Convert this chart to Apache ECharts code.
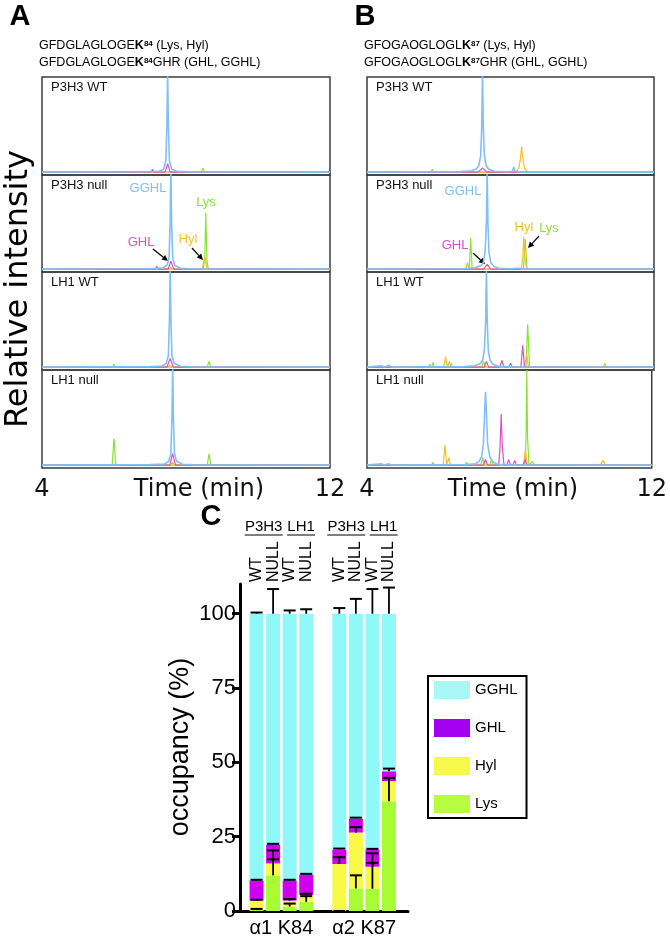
<!DOCTYPE html>
<html><head><meta charset="utf-8">
<script src="https://cdn.jsdelivr.net/npm/echarts@6/dist/echarts.min.js"></script>
<style>html,body{margin:0;padding:0;background:#fff}#c{width:670px;height:938px}</style>
</head><body><div id="c"></div><script>
// ---------- Chromatogram data (time in min, relative intensity) ----------
const timeTicks = [4, 12];
const conditions = ['P3H3 WT', 'P3H3 null', 'LH1 WT', 'LH1 null'];
const ionNames = ['Lys', 'Hyl', 'GHL', 'GGHL'];

// Panel A: GFDGLAGLOGEK84
const aP3wt_GGHL = [[4,0],[6.9,0.004],[7.25,0.01],[7.38,0.03],[7.44,0.12],[7.47,0.5],[7.49,1.05],[7.51,0.5],[7.54,0.12],[7.6,0.03],[7.75,0.01],[8.1,0.003],[12,0]];
const aP3wt_GHL = [[4,0],[5.65,0],[5.7,0.015],[5.75,0],[6.4,0],[6.44,0.012],[6.48,0],[6.68,0],[6.72,0.015],[6.76,0],[7.03,0],[7.07,0.03],[7.11,0],[7.42,0],[7.49,0.09],[7.56,0],[12,0]];
const aP3wt_Hyl = [[4,0],[8.42,0],[8.47,0.045],[8.52,0],[12,0]];
const aP3wt_Lys = [[4,0],[6.05,0],[6.1,0.012],[6.15,0],[8.78,0],[8.82,0.015],[8.86,0],[12,0]];

const aP3null_GGHL = [[4,0],[7.0,0.005],[7.35,0.012],[7.47,0.04],[7.53,0.12],[7.56,0.5],[7.58,1.05],[7.6,0.5],[7.63,0.12],[7.69,0.04],[7.85,0.01],[8.2,0.003],[12,0]];
const aP3null_GHL = [[4,0],[5.65,0],[5.69,0.02],[5.73,0],[5.93,0],[5.97,0.015],[6.01,0],[6.73,0],[6.77,0.02],[6.81,0],[7.15,0],[7.19,0.03],[7.23,0],[7.5,0],[7.58,0.085],[7.66,0],[12,0]];
const aP3null_Hyl = [[4,0],[7.52,0],[7.58,0.02],[7.64,0],[8.45,0],[8.52,0.13],[8.59,0],[12,0]];
const aP3null_Lys = [[4,0],[6.35,0],[6.4,0.012],[6.45,0],[8.48,0],[8.52,0.1],[8.55,0.6],[8.58,0.1],[8.62,0],[12,0]];

const aLHwt_GGHL = [[4,0],[7.0,0.005],[7.33,0.012],[7.45,0.04],[7.51,0.12],[7.54,0.5],[7.56,1.05],[7.58,0.5],[7.61,0.12],[7.67,0.04],[7.85,0.01],[8.2,0.003],[12,0]];
const aLHwt_GHL = [[4,0],[6.2,0],[6.25,0.012],[6.3,0],[7.47,0],[7.56,0.09],[7.65,0],[12,0]];
const aLHwt_Hyl = [[4,0],[7.5,0],[7.56,0.02],[7.62,0],[12,0]];
const aLHwt_Lys = [[4,0],[5.96,0],[6.0,0.03],[6.04,0],[8.59,0],[8.64,0.06],[8.69,0],[12,0]];

const aLHnull_GGHL = [[4,0],[7.0,0.005],[7.4,0.012],[7.52,0.04],[7.58,0.12],[7.61,0.5],[7.63,1.05],[7.65,0.5],[7.68,0.12],[7.74,0.04],[7.9,0.01],[8.25,0.003],[12,0]];
const aLHnull_GHL = [[4,0],[6.9,0],[6.95,0.012],[7.0,0],[7.55,0],[7.63,0.12],[7.71,0],[12,0]];
const aLHnull_Hyl = [[4,0],[7.57,0],[7.63,0.03],[7.69,0],[12,0]];
const aLHnull_Lys = [[4,0],[5.95,0],[6.0,0.28],[6.05,0],[6.5,0],[6.55,0.012],[6.6,0],[8.59,0],[8.64,0.12],[8.69,0],[12,0]];

// Panel B: GFOGAOGLOGLK87
const bP3wt_GGHL = [[4,0],[6.6,0.005],[6.9,0.015],[7.05,0.035],[7.12,0.07],[7.17,0.18],[7.2,0.5],[7.22,1.05],[7.24,0.5],[7.27,0.18],[7.32,0.07],[7.4,0.03],[7.55,0.01],[7.9,0.004],[8.05,0.01],[8.09,0.055],[8.13,0.01],[8.3,0],[12,0]];
const bP3wt_GHL = [[4,0],[7.1,0],[7.22,0.045],[7.34,0],[12,0]];
const bP3wt_Hyl = [[4,0],[6.68,0],[6.73,0.02],[6.78,0],[8.15,0],[8.23,0.04],[8.27,0.12],[8.31,0.27],[8.35,0.12],[8.4,0.03],[8.5,0],[12,0]];
const bP3wt_Lys = [[4,0],[5.78,0],[5.82,0.03],[5.86,0],[6.45,0],[6.5,0.012],[6.55,0],[12,0]];

const bP3null_GGHL = [[4,0],[6.7,0.005],[7.0,0.015],[7.17,0.035],[7.24,0.07],[7.29,0.18],[7.33,0.5],[7.35,1.05],[7.37,0.5],[7.4,0.18],[7.45,0.07],[7.53,0.03],[7.68,0.01],[8.0,0.004],[8.17,0.01],[8.21,0.03],[8.25,0.01],[8.4,0],[12,0]];
const bP3null_GHL = [[4,0],[6.9,0],[6.95,0.02],[7.0,0],[7.25,0],[7.35,0.05],[7.45,0],[12,0]];
const bP3null_Hyl = [[4,0],[6.75,0],[6.8,0.07],[6.85,0],[8.3,0],[8.34,0.12],[8.37,0.34],[8.4,0.12],[8.45,0],[12,0]];
const bP3null_Lys = [[4,0],[5.3,0],[5.35,0.012],[5.4,0],[6.85,0],[6.89,0.33],[6.93,0],[8.36,0],[8.41,0.32],[8.46,0],[12,0]];

const bLHwt_GGHL = [[4,0],[4.4,0.015],[4.5,0],[4.6,0.02],[4.7,0],[6.7,0.005],[7.0,0.015],[7.15,0.035],[7.22,0.07],[7.27,0.18],[7.31,0.5],[7.33,1.05],[7.35,0.5],[7.38,0.18],[7.43,0.07],[7.51,0.03],[7.66,0.01],[8.0,0.003],[12,0]];
const bLHwt_GHL = [[4,0],[7.27,0],[7.33,0.06],[7.39,0],[7.7,0],[7.76,0.07],[7.82,0],[7.95,0],[8.0,0.04],[8.05,0],[8.29,0],[8.34,0.23],[8.39,0],[12,0]];
const bLHwt_Hyl = [[4,0],[5.7,0],[5.75,0.03],[5.8,0],[6.14,0],[6.19,0.11],[6.24,0],[6.26,0],[6.3,0.06],[6.34,0],[8.4,0],[8.45,0.14],[8.5,0],[10.58,0],[10.63,0.04],[10.68,0],[12,0]];
const bLHwt_Lys = [[4,0],[5.8,0],[5.84,0.05],[5.88,0],[6.31,0],[6.35,0.04],[6.39,0],[7.2,0],[7.25,0.06],[7.3,0],[8.43,0],[8.48,0.45],[8.53,0],[12,0]];

const bLHnull_GGHL = [[4,0],[4.4,0.015],[4.5,0],[4.6,0.015],[4.7,0],[6.8,0.005],[7.05,0.015],[7.15,0.04],[7.22,0.09],[7.27,0.22],[7.31,0.6],[7.33,0.77],[7.35,0.6],[7.39,0.22],[7.45,0.09],[7.52,0.04],[7.66,0.01],[8.0,0.003],[12,0]];
const bLHnull_GHL = [[4,0],[7.27,0],[7.33,0.06],[7.39,0],[7.7,0],[7.74,0.2],[7.77,0.54],[7.8,0.2],[7.85,0],[7.93,0],[7.98,0.06],[8.03,0],[8.1,0],[8.15,0.05],[8.2,0],[8.39,0],[8.44,0.06],[8.49,0],[8.96,0],[9.0,0.02],[9.04,0],[10.26,0],[10.3,0.02],[10.34,0],[12,0]];
const bLHnull_Hyl = [[4,0],[6.14,0],[6.19,0.21],[6.24,0],[6.26,0],[6.3,0.08],[6.34,0],[8.4,0],[8.45,0.17],[8.5,0],[9.06,0],[9.1,0.02],[9.14,0],[10.55,0],[10.63,0.05],[10.7,0],[12,0]];
const bLHnull_Lys = [[4,0],[5.81,0],[5.85,0.03],[5.89,0],[6.76,0],[6.8,0.03],[6.84,0],[7.2,0],[7.25,0.08],[7.3,0],[7.45,0],[7.5,0.06],[7.55,0],[8.44,0],[8.47,0.3],[8.49,1.0],[8.51,0.3],[8.55,0],[8.6,0],[8.65,0.04],[8.7,0],[12,0]];

// ---------- Occupancy data (panel C) ----------
const barLabels = ['WT', 'NULL', 'WT', 'NULL', 'WT', 'NULL', 'WT', 'NULL'];
const barPos = [1, 2, 3, 4, 6, 7, 8, 9];
const geneLabels = ['P3H3', 'LH1', 'P3H3', 'LH1'];
const genePos = [1.43, 3.69, 6.42, 8.68];
const siteLabels = ['α1 K84', 'α2 K87'];
const sitePos = [2.5, 7.5];
const occTicks = [0, 25, 50, 75, 100];
const lysVals  = [0.5, 12.0, 1.5, 3.1, 0.0, 7.6, 7.5, 36.9];
const hylVals  = [3.0, 4.0, 2.0, 2.3, 15.8, 18.8, 7.4, 6.8];
const ghlVals  = [6.8, 6.4, 6.8, 6.9, 4.9, 4.7, 5.8, 3.3];
const gghlVals = [89.7, 77.6, 89.7, 87.7, 79.3, 68.9, 79.3, 53.0];
const lysErr  = [0.2, 8.4, 1.0, 1.9, 0.0, 4.4, 8.7, 7.9];
const hylErr  = [0.3, 1.4, 0.5, 0.4, 2.3, 1.8, 4.5, 1.0];
const ghlErr  = [0.2, 0.2, 0.2, 0.2, 0.3, 0.3, 0.2, 0.9];
const gghlErr = [0.4, 8.3, 1.1, 1.5, 1.9, 5.0, 8.3, 8.8];

// ---------- build ----------
const SANS = 'Liberation Sans, Arial, sans-serif';
const DV = 'DejaVu Sans, Verdana, sans-serif';
const chromColors = {GGHL: '#7fc0f6', GHL: '#e24fc6', Hyl: '#f0c12c', Lys: '#8ae232'};
const barColors = {GGHL: '#8ff9f9', GHL: '#cf00f2', Hyl: '#f8f846', Lys: '#a8fc34'};
const legendColors = {GGHL: '#a9f7f7', GHL: '#a600f0', Hyl: '#f8f84c', Lys: '#b8fc42'};

const panels = [
  {left: 42, width: 288, traces: [
    {Lys: aP3wt_Lys, Hyl: aP3wt_Hyl, GHL: aP3wt_GHL, GGHL: aP3wt_GGHL},
    {Lys: aP3null_Lys, Hyl: aP3null_Hyl, GHL: aP3null_GHL, GGHL: aP3null_GGHL},
    {Lys: aLHwt_Lys, Hyl: aLHwt_Hyl, GHL: aLHwt_GHL, GGHL: aLHwt_GGHL},
    {Lys: aLHnull_Lys, Hyl: aLHnull_Hyl, GHL: aLHnull_GHL, GGHL: aLHnull_GGHL}]},
  {left: 367, width: 287, traces: [
    {Lys: bP3wt_Lys, Hyl: bP3wt_Hyl, GHL: bP3wt_GHL, GGHL: bP3wt_GGHL},
    {Lys: bP3null_Lys, Hyl: bP3null_Hyl, GHL: bP3null_GHL, GGHL: bP3null_GGHL},
    {Lys: bLHwt_Lys, Hyl: bLHwt_Hyl, GHL: bLHwt_GHL, GGHL: bLHwt_GGHL},
    {Lys: bLHnull_Lys, Hyl: bLHnull_Hyl, GHL: bLHnull_GHL, GGHL: bLHnull_GGHL}]}
];
const subTops = [77, 175, 272, 370];
const subBottom = 468;

const grids = [], xAxes = [], yAxes = [], series = [], graphics = [];
panels.forEach((p, pi) => {
  subTops.forEach((t, ci) => {
    const gi = pi * 4 + ci;
    const h = (ci < 3 ? subTops[ci + 1] : subBottom) - t;
    grids.push({left: p.left, top: t, width: p.width, height: h, show: true,
      borderColor: '#3c3c3c', borderWidth: 1.5, backgroundColor: 'transparent'});
    const last = ci === 3;
    xAxes.push({type: 'value', gridIndex: gi, min: timeTicks[0], max: timeTicks[1],
      axisLine: {show: false}, axisTick: {show: false}, splitLine: {show: false},
      axisLabel: {show: last, customValues: timeTicks, fontSize: 24, fontFamily: DV, color: '#111', margin: 10}});
    yAxes.push({type: 'value', gridIndex: gi, min: -0.03, max: 1, show: false, splitLine: {show: false}});
    ionNames.forEach(ion => {
      series.push({type: 'line', name: conditions[ci] + ' ' + ion + ' ' + pi,
        xAxisIndex: gi, yAxisIndex: gi, data: p.traces[ci][ion], showSymbol: false,
        silent: true, z: ion === 'GGHL' ? 4 : 3,
        lineStyle: {color: chromColors[ion], width: ion === 'GGHL' ? 1.6 : 1.2}});
    });
    graphics.push({type: 'text', left: p.left + 9, top: t + 4,
      style: {text: conditions[ci], font: '13px ' + SANS, fill: '#111'}});
  });
});

// panel C grid
const gC = 8;
grids.push({left: 240, top: 584, width: 168, height: 328, show: false});
xAxes.push({type: 'value', gridIndex: gC, min: 0, max: 10.15,
  axisLine: {show: true, lineStyle: {color: '#000', width: 3}}, axisTick: {show: false},
  splitLine: {show: false},
  axisLabel: {customValues: sitePos, fontSize: 20, fontFamily: SANS, color: '#000', margin: 7,
    formatter: v => siteLabels[sitePos.indexOf(v)]}});
yAxes.push({type: 'value', gridIndex: gC, min: 0, max: 110,
  axisLine: {show: true, lineStyle: {color: '#000', width: 3}},
  axisTick: {show: true, customValues: occTicks, length: 8, lineStyle: {color: '#000', width: 3}},
  splitLine: {show: false},
  axisLabel: {customValues: occTicks, fontSize: 22, fontFamily: SANS, color: '#000', margin: 4}});

// stacked segments: [x, bottom, top] built from the values, drawn through the axis scales
const stackDefs = [['Lys', lysVals], ['Hyl', hylVals], ['GHL', ghlVals], ['GGHL', gghlVals]];
const cumBase = barPos.map(() => 0);
stackDefs.forEach(([name, vals]) => {
  const segs = barPos.map((x, i) => {
    const lo = cumBase[i], hi = lo + vals[i];
    cumBase[i] = hi;
    return [x, lo, hi];
  });
  const col = barColors[name];
  series.push({type: 'custom', name: name, xAxisIndex: gC, yAxisIndex: gC, data: segs,
    itemStyle: {color: col}, silent: true, encode: {x: 0, y: [1, 2]}, z: 2,
    renderItem: (params, api) => {
      const x = api.value(0), lo = api.value(1), hi = api.value(2);
      const p0 = api.coord([x, lo]), p1 = api.coord([x, hi]);
      return {type: 'rect', shape: {x: p0[0] - 7, y: p1[1], width: 14, height: p0[1] - p1[1]},
        style: {fill: col}};
    }});
});
// error bars (upward T from each segment's top)
const errData = [];
const errDefs = [[lysVals, lysErr], [hylVals, hylErr], [ghlVals, ghlErr], [gghlVals, gghlErr]];
barPos.forEach((x, i) => {
  let cum = 0;
  errDefs.forEach(([vals, errs]) => {
    cum += vals[i];
    errData.push([x, cum, cum + errs[i]]);
  });
});
series.push({type: 'custom', name: 'err', xAxisIndex: gC, yAxisIndex: gC, data: errData, z: 10,
  silent: true, clip: false, encode: {x: 0, y: [1, 2]},
  renderItem: (params, api) => {
    const x = api.value(0), top = api.value(1), cap = api.value(2);
    const p0 = api.coord([x, top]), p1 = api.coord([x, cap]);
    const hw = 6;
    return {type: 'group', children: [
      {type: 'line', shape: {x1: p0[0], y1: p0[1], x2: p1[0], y2: p1[1]}, style: {stroke: '#000', lineWidth: 1.8}},
      {type: 'line', shape: {x1: p1[0] - hw, y1: p1[1], x2: p1[0] + hw, y2: p1[1]}, style: {stroke: '#000', lineWidth: 2}}
    ]};
  }});

// static annotation texts
function txt(x, y, s, font, fill, extra) {
  return Object.assign({type: 'text', x: x, y: y, style: {text: s, font: font, fill: fill || '#000', align: 'center', verticalAlign: 'middle'}}, extra || {});
}
function arrow(x1, y1, x2, y2) {
  const a = Math.atan2(y2 - y1, x2 - x1), L = 6, W = 3;
  const bx = x2 - L * Math.cos(a), by = y2 - L * Math.sin(a);
  return {type: 'group', children: [
    {type: 'line', shape: {x1: x1, y1: y1, x2: bx, y2: by}, style: {stroke: '#000', lineWidth: 1.2}},
    {type: 'polygon', shape: {points: [[x2, y2], [bx - W * Math.sin(a), by + W * Math.cos(a)], [bx + W * Math.sin(a), by - W * Math.cos(a)]]}, style: {fill: '#000'}}
  ]};
}
const richH = {n: {font: '12.5px ' + SANS, fill: '#000'}, b: {font: 'bold 12.5px ' + SANS, fill: '#000'}, s: {font: 'bold 8px ' + SANS, fill: '#000', verticalAlign: 'top', padding: [0, 0, 5, 0]}};
graphics.push(
  txt(20, 17, 'A', 'bold 29px ' + SANS),
  txt(365, 17, 'B', 'bold 29px ' + SANS),
  txt(211, 517, 'C', 'bold 29px ' + SANS),
  {type: 'text', x: 39, y: 46, style: {text: '{n|GFDGLAGLOGE}{b|K}{s|84}{n| (Lys, Hyl)}', verticalAlign: 'middle', rich: richH}},
  {type: 'text', x: 39, y: 63, style: {text: '{n|GFDGLAGLOGE}{b|K}{s|84}{n|GHR (GHL, GGHL)}', verticalAlign: 'middle', rich: richH}},
  {type: 'text', x: 364, y: 46, style: {text: '{n|GFOGAOGLOGL}{b|K}{s|87}{n| (Lys, Hyl)}', verticalAlign: 'middle', rich: richH}},
  {type: 'text', x: 364, y: 63, style: {text: '{n|GFOGAOGLOGL}{b|K}{s|87}{n|GHR (GHL, GGHL)}', verticalAlign: 'middle', rich: richH}},
  txt(19, 289, 'Relative intensity', '32px ' + DV, '#000', {rotation: Math.PI / 2}),
  txt(199, 490, 'Time (min)', '24px ' + DV, '#111'),
  txt(513, 490, 'Time (min)', '24px ' + DV, '#111'),
  txt(181, 747, 'occupancy (%)', '27px ' + SANS, '#000', {rotation: Math.PI / 2}),
  // peak annotations
  txt(148, 188, 'GGHL', '13px ' + SANS, chromColors.GGHL),
  txt(206, 202, 'Lys', '13px ' + SANS, chromColors.Lys),
  txt(141, 242, 'GHL', '13px ' + SANS, chromColors.GHL),
  txt(188, 239, 'Hyl', '13px ' + SANS, chromColors.Hyl),
  arrow(153, 249, 168, 261),
  arrow(192, 248, 203, 260),
  txt(463, 191, 'GGHL', '13px ' + SANS, chromColors.GGHL),
  txt(455, 245, 'GHL', '13px ' + SANS, chromColors.GHL),
  txt(524, 227, 'Hyl', '13px ' + SANS, chromColors.Hyl),
  txt(549, 228, 'Lys', '13px ' + SANS, chromColors.Lys),
  arrow(473, 253, 485, 264),
  arrow(539, 236, 528, 248)
);

const chart = echarts.init(document.getElementById('c'), null, {renderer: 'canvas'});
chart.setOption({
  animation: false,
  backgroundColor: '#fff',
  grid: grids, xAxis: xAxes, yAxis: yAxes, series: series,
  legend: {show: true, orient: 'vertical', left: 428, top: 676, icon: 'rect',
    itemWidth: 36, itemHeight: 18, itemGap: 20, selectedMode: false,
    borderColor: '#000', borderWidth: 2, padding: [5, 9, 5, 6],
    textStyle: {fontSize: 15, fontFamily: SANS, color: '#000'},
    data: ['GGHL', 'GHL', 'Hyl', 'Lys'].map(n => ({name: n, itemStyle: {color: legendColors[n]}}))},
  graphic: graphics
});

// labels above the bars, placed through the bar chart's own x scale
const extra = [];
barPos.forEach((x, i) => {
  const px = chart.convertToPixel({gridIndex: gC}, [x, 0])[0];
  extra.push({type: 'text', x: px, y: 582, rotation: Math.PI / 2,
    style: {text: barLabels[i], font: '16px ' + SANS, fill: '#000', align: 'left', verticalAlign: 'middle'}});
});
genePos.forEach((x, i) => {
  const px = chart.convertToPixel({gridIndex: gC}, [x, 0])[0];
  extra.push({type: 'text', x: px, y: 527, style: {text: geneLabels[i], font: '15px ' + SANS, fill: '#000', align: 'center', verticalAlign: 'middle'}});
  const w = geneLabels[i].length === 4 ? 38 : 28;
  extra.push({type: 'line', shape: {x1: px - w / 2, y1: 535, x2: px + w / 2, y2: 535}, style: {stroke: '#000', lineWidth: 1}});
});
chart.setOption({graphic: graphics.concat(extra)});
</script></body></html>
